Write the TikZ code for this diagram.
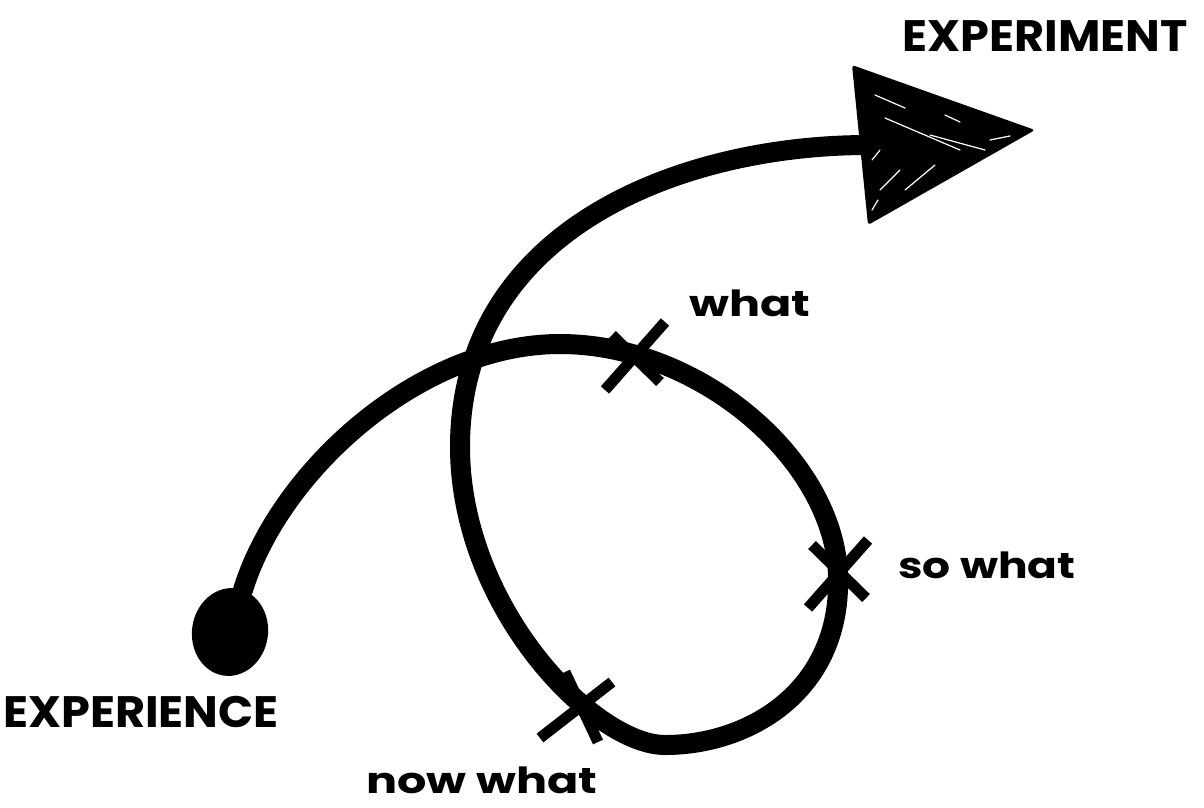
\documentclass[tikz,border=0pt]{standalone}
\usepackage{fontspec}
\setmainfont{Poppins}
\usetikzlibrary{shapes.geometric}
\begin{document}
\begin{tikzpicture}[x=1pt,y=-1pt,
  loopline/.style={line width=20pt, line cap=round},
  crossmark/.style={line width=11pt, line cap=butt},
  hand/.style={inner sep=0pt, font=\fontsize{36}{40}\selectfont\bfseries},
  titletext/.style={inner sep=0pt, font=\fontsize{44}{48}\selectfont\bfseries},
  scratch/.style={white, line width=1.2pt, line cap=round}
]
\useasboundingbox (0,0) rectangle (1204,807);
% start dot
\node[ellipse, fill=black, minimum width=76pt, minimum height=88pt, inner sep=0pt, rotate=-8] (start) at (230,632) {};
% arrow head
\coordinate (head) at (868,145);
\fill[rounded corners=3pt] (852,65) -- (1035,130) -- (868,225) -- cycle;
\draw[scratch] (875,95) -- (905,108);
\draw[scratch] (885,118) -- (960,150);
\draw[scratch] (930,135) -- (985,150);
\draw[scratch] (990,140) -- (1010,136);
\draw[scratch] (880,190) -- (900,170);
\draw[scratch] (905,190) -- (935,165);
\draw[scratch] (872,160) -- (880,150);
\draw[scratch] (872,210) -- (878,200);
\draw[scratch] (945,115) -- (960,122);
% main curve
\draw[loopline] (start) .. controls (280,470) and (420,344) .. (560,344)
  .. controls (700,344) and (834,460) .. (838,575)
  .. controls (842,690) and (750,745) .. (665,745)
  .. controls (595,745) and (462,610) .. (460,450)
  .. controls (458,230) and (680,145) .. (head);
% cross marks
\coordinate (xwhat) at (636,355);
\coordinate (xsowhat) at (838,572);
\coordinate (xnowwhat) at (578,705);
\draw[crossmark, shift={(xwhat)}] (-31,35) -- (29,-33);
\draw[crossmark, shift={(xwhat)}] (-24,-20) -- (24,27);
\draw[crossmark, shift={(xsowhat)}] (-30,36) -- (30,-32);
\draw[crossmark, shift={(xsowhat)}] (-26,-27) -- (28,26);
\draw[crossmark, shift={(xnowwhat)}] (-38,33) -- (34,-23);
\draw[crossmark, shift={(xnowwhat)}] (-13,-33) -- (20,37);
% labels
\node[hand] (lwhat) at (750,303) {\scalebox{1.28}[1]{what}};
\node[hand] (lsowhat) at (987,565) {\scalebox{1.22}[1]{so what}};
\node[hand] (lnowwhat) at (482,780) {\scalebox{1.28}[1]{now what}};
\node[titletext] (lexperience) at (141,712) {\scalebox{1.05}[1]{EXPERIENCE}};
\node[titletext] (lexperiment) at (1045,36) {\scalebox{1.05}[1]{EXPERIMENT}};
\end{tikzpicture}
\end{document}
